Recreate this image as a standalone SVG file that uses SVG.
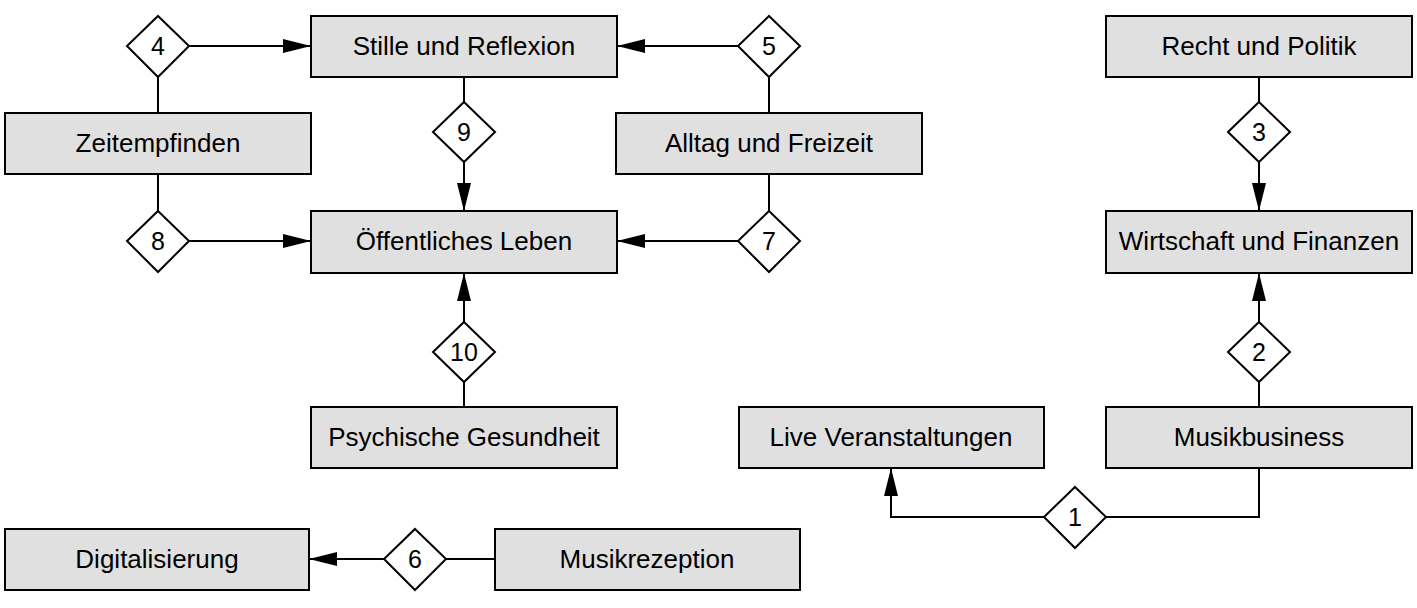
<svg xmlns="http://www.w3.org/2000/svg" width="1417" height="608" viewBox="0 0 1417 608">
<style>
.box{fill:#e0e0e0;stroke:#000;stroke-width:2}
.dia{fill:#fff;stroke:#000;stroke-width:2}
.lbl{font-family:"Liberation Sans",Arial,sans-serif;font-size:26px;fill:#000;text-anchor:middle}
.num{font-family:"Liberation Sans",Arial,sans-serif;font-size:25px;fill:#000;text-anchor:middle}
.con{fill:none;stroke:#000;stroke-width:2}
</style>
<defs>
<marker id="arr" markerUnits="userSpaceOnUse" markerWidth="30" markerHeight="16" refX="28" refY="7" orient="auto">
<path d="M0,0 L28,7 L0,14 z" fill="#000"/>
</marker>
</defs>
<rect width="1417" height="608" fill="#fff"/>
<g id="connectors">
<path class="con" d="M158,113 V77"/>
<path class="con" d="M189,46 H311" marker-end="url(#arr)"/>
<path class="con" d="M769,113 V77"/>
<path class="con" d="M738,46 H617" marker-end="url(#arr)"/>
<path class="con" d="M464,77 V102"/>
<path class="con" d="M464,162 V211" marker-end="url(#arr)"/>
<path class="con" d="M158,174 V211"/>
<path class="con" d="M189,241 H311" marker-end="url(#arr)"/>
<path class="con" d="M769,174 V211"/>
<path class="con" d="M738,241 H617" marker-end="url(#arr)"/>
<path class="con" d="M464,407 V382"/>
<path class="con" d="M464,322 V273" marker-end="url(#arr)"/>
<path class="con" d="M1259,77 V102"/>
<path class="con" d="M1259,162 V211" marker-end="url(#arr)"/>
<path class="con" d="M1259,407 V382"/>
<path class="con" d="M1259,322 V273" marker-end="url(#arr)"/>
<path class="con" d="M1259,468 V517 H1106"/>
<path class="con" d="M1044,517 H891 V468" marker-end="url(#arr)"/>
<path class="con" d="M495,559 H446"/>
<path class="con" d="M384,559 H309" marker-end="url(#arr)"/>
</g>
<g id="stille"><rect class="box" x="311" y="16" width="306" height="61"/><text class="lbl" x="464" y="55">Stille und Reflexion</text></g>
<g id="zeitempfinden"><rect class="box" x="5" y="113" width="306" height="61"/><text class="lbl" x="158" y="152">Zeitempfinden</text></g>
<g id="alltag"><rect class="box" x="616" y="113" width="306" height="61"/><text class="lbl" x="769" y="152">Alltag und Freizeit</text></g>
<g id="oeffentlich"><rect class="box" x="311" y="211" width="306" height="62"/><text class="lbl" x="464" y="250">Öffentliches Leben</text></g>
<g id="psychische"><rect class="box" x="311" y="407" width="306" height="61"/><text class="lbl" x="464" y="446">Psychische Gesundheit</text></g>
<g id="recht"><rect class="box" x="1106" y="16" width="306" height="61"/><text class="lbl" x="1259" y="55">Recht und Politik</text></g>
<g id="wirtschaft"><rect class="box" x="1106" y="211" width="306" height="62"/><text class="lbl" x="1259" y="250">Wirtschaft und Finanzen</text></g>
<g id="live"><rect class="box" x="739" y="407" width="305" height="61"/><text class="lbl" x="891" y="446">Live Veranstaltungen</text></g>
<g id="musikbusiness"><rect class="box" x="1106" y="407" width="306" height="61"/><text class="lbl" x="1259" y="446">Musikbusiness</text></g>
<g id="digitalisierung"><rect class="box" x="5" y="529" width="304" height="61"/><text class="lbl" x="157" y="568">Digitalisierung</text></g>
<g id="musikrezeption"><rect class="box" x="495" y="529" width="305" height="61"/><text class="lbl" x="647" y="568">Musikrezeption</text></g>
<g id="d4"><polygon class="dia" points="158,16 189,46 158,77 127,46"/><text class="num" x="158" y="55">4</text></g>
<g id="d5"><polygon class="dia" points="769,16 800,46 769,77 738,46"/><text class="num" x="769" y="55">5</text></g>
<g id="d9"><polygon class="dia" points="464,102 495,132 464,162 433,132"/><text class="num" x="464" y="141">9</text></g>
<g id="d8"><polygon class="dia" points="158,211 189,241 158,272 127,241"/><text class="num" x="158" y="250">8</text></g>
<g id="d7"><polygon class="dia" points="769,211 800,241 769,272 738,241"/><text class="num" x="769" y="250">7</text></g>
<g id="d10"><polygon class="dia" points="464,322 495,352 464,382 433,352"/><text class="num" x="464" y="361">10</text></g>
<g id="d3"><polygon class="dia" points="1259,102 1290,132 1259,162 1228,132"/><text class="num" x="1259" y="141">3</text></g>
<g id="d2"><polygon class="dia" points="1259,322 1290,352 1259,382 1228,352"/><text class="num" x="1259" y="361">2</text></g>
<g id="d1"><polygon class="dia" points="1075,487 1106,517 1075,548 1044,517"/><text class="num" x="1075" y="526">1</text></g>
<g id="d6"><polygon class="dia" points="415,529 446,559 415,590 384,559"/><text class="num" x="415" y="568">6</text></g>
</svg>
